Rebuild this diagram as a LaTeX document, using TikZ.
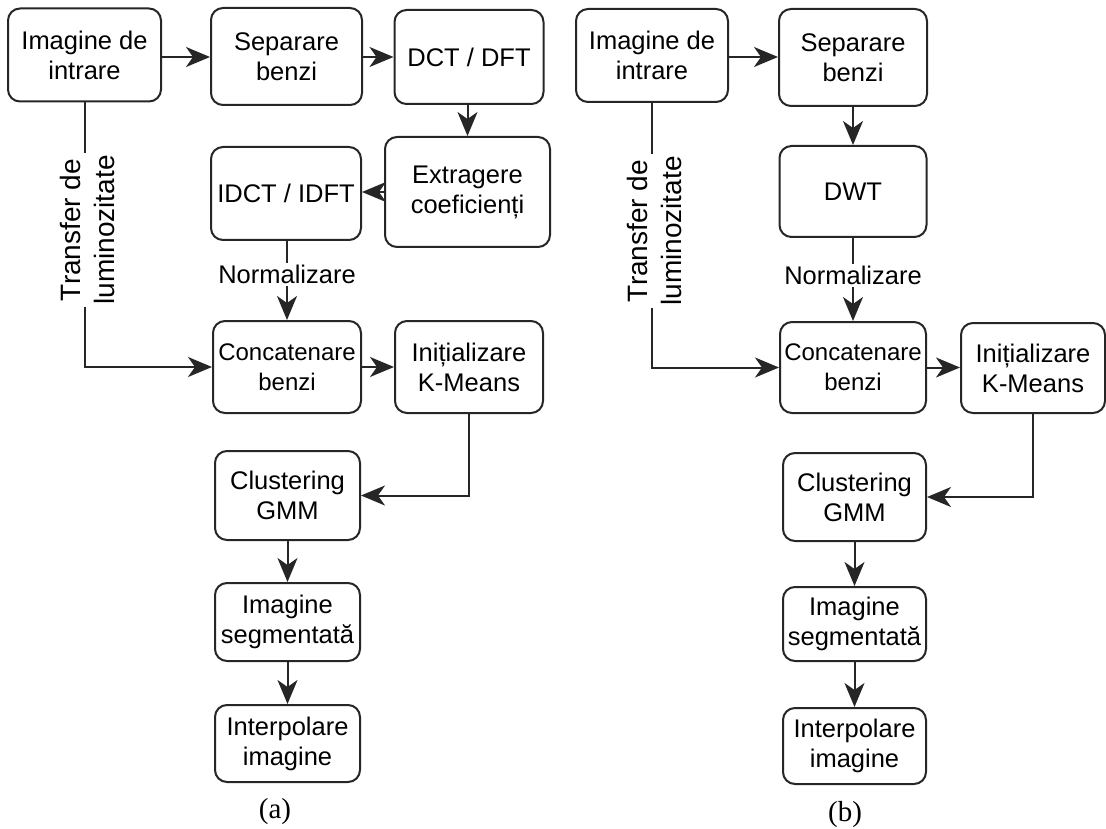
\documentclass[tikz,border=0pt]{standalone}
\usepackage{fontspec}
\setmainfont{Liberation Sans}
\newfontfamily\captionserif{Liberation Serif}
\usetikzlibrary{arrows.meta}

\begin{document}
\begin{tikzpicture}[x=1pt,y=-1pt,
  every node/.style={inner sep=0pt},
  box/.style={draw=black!85, line width=2pt, rounded corners=12pt, fill=white,
    align=center, font=\fontsize{25.5}{30}\selectfont},
  smallbox/.style={box, font=\fontsize{24}{30}\selectfont},
  wire/.style={draw=black!85, line width=2pt},
  conn/.style={wire, -{Stealth[length=24pt,width=20pt,inset=7pt]}},
  edgelabel/.style={fill=white, inner sep=2pt, font=\fontsize{25.5}{30}\selectfont},
  sidelabel/.style={fill=white, inner sep=2pt, rotate=90, align=center,
    font=\fontsize{28}{34}\selectfont},
  caption/.style={font=\captionserif\fontsize{29}{34}\selectfont}
]
\useasboundingbox (0,0) rectangle (1106,829);

% ---------- (a) DCT / DFT pipeline ----------
\node[box, minimum width=153pt, minimum height=93pt] (a1) at (84.5,55) {Imagine de\\intrare};
\node[box, minimum width=151pt, minimum height=97pt] (a2) at (286.5,56.5) {Separare\\benzi};
\node[box, minimum width=149pt, minimum height=94pt] (a3) at (469,57) {DCT / DFT};
\node[box, minimum width=165pt, minimum height=110pt] (a4) at (467.5,192) {Extragere\\coeficienți};
\node[box, minimum width=150pt, minimum height=93pt] (a5) at (286,193.5) {IDCT / IDFT};
\node[smallbox, minimum width=148pt, minimum height=92pt] (a6) at (287,367) {Concatenare\\benzi};
\node[box, minimum width=148pt, minimum height=92pt] (a7) at (469,367) {Inițializare\\K-Means};
\node[box, minimum width=145pt, minimum height=89pt] (a8) at (287.5,495.5) {Clustering\\GMM};
\node[box, minimum width=145pt, minimum height=78pt] (a9) at (287.5,622) {Imagine\\segmentată};
\node[box, minimum width=145pt, minimum height=77pt] (a10) at (287.5,743.5) {Interpolare\\imagine};
\node[caption] (capa) at (275,812) {(a)};
\coordinate (rowa) at (0,57);

\draw[conn] (a1.east |- rowa) -- (a2.west |- rowa);
\draw[conn] (a2.east |- rowa) -- (a3.west |- rowa);
\draw[conn] (a3.south -| a4.north) -- (a4.north);
\draw[conn] (a4.west) -- (a4.west -| a5.east);
\draw[conn] (a5.south -| a6.north) -- node[edgelabel, pos=0.42] (na) {Normalizare} (a6.north);
\draw[conn] (a1.south) |- (a6.west);
\node[sidelabel] (ta) at (87,230) {Transfer de\\luminozitate};
\draw[conn] (a6.east) -- (a7.west);
\draw[conn] (a7.south) |- (a8.east);
\draw[conn] (a8) -- (a9);
\draw[conn] (a9) -- (a10);

% ---------- (b) DWT pipeline ----------
\node[box, minimum width=152pt, minimum height=93pt] (b1) at (652,55.5) {Imagine de\\intrare};
\node[box, minimum width=148pt, minimum height=97pt] (b2) at (853,57.5) {Separare\\benzi};
\node[box, minimum width=147pt, minimum height=91pt] (b3) at (853,191.5) {DWT};
\node[smallbox, minimum width=146pt, minimum height=91pt] (b6) at (853,367.5) {Concatenare\\benzi};
\node[box, minimum width=144pt, minimum height=90pt] (b7) at (1033,368) {Inițializare\\K-Means};
\node[box, minimum width=143pt, minimum height=88pt] (b8) at (854.5,497) {Clustering\\GMM};
\node[box, minimum width=143pt, minimum height=74pt] (b9) at (854.5,624) {Imagine\\segmentată};
\node[box, minimum width=143pt, minimum height=76pt] (b10) at (854.5,746) {Interpolare\\imagine};
\node[caption] (capb) at (845,815) {(b)};

\draw[conn] (b1.east |- rowa) -- (b2.west |- rowa);
\draw[conn] (b2) -- (b3);
\draw[conn] (b3) -- node[edgelabel, pos=0.45] (nb) {Normalizare} (b6);
\draw[conn] (b1.south) |- (b6.west);
\node[sidelabel] (tb) at (654,231) {Transfer de\\luminozitate};
\draw[conn] (b6.east) -- (b6.east -| b7.west);
\draw[conn] (b7.south) |- (b8.east);
\draw[conn] (b8) -- (b9);
\draw[conn] (b9) -- (b10);
\end{tikzpicture}
\end{document}
